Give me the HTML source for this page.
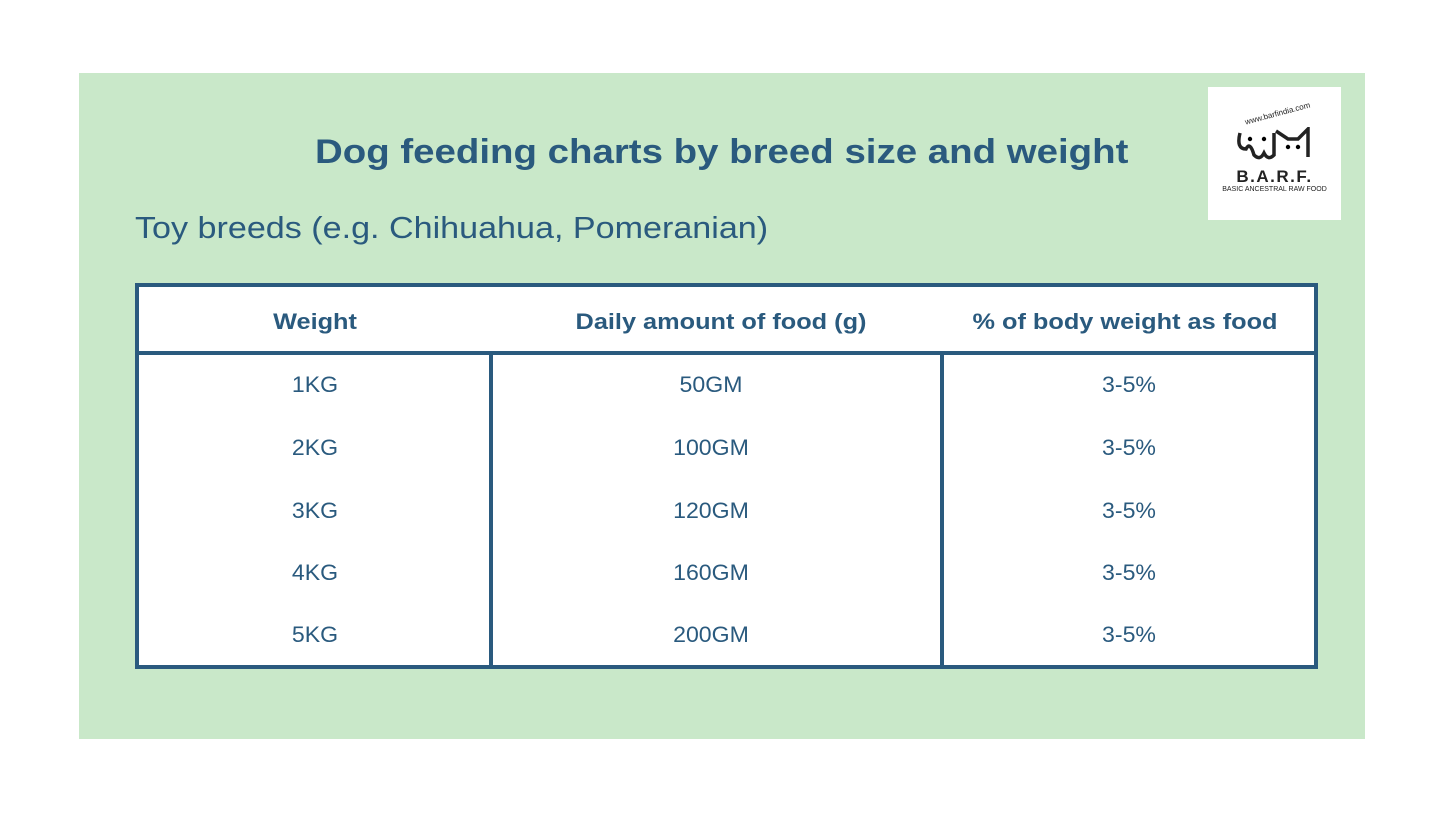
<!DOCTYPE html><html><head><style>
body{margin:0;width:1445px;height:813px;background:#fff;position:relative;font-family:"Liberation Sans",sans-serif;overflow:hidden}
.bg{position:absolute;left:79px;top:73px;width:1286px;height:666px;background:#c9e8c9}
.t{position:absolute;color:#2a5a7e;white-space:nowrap;transform-origin:left top}
.logo{position:absolute;left:1208px;top:87px;width:133px;height:133px;background:#fff}
.tbl{position:absolute;left:135px;top:283px;width:1175px;height:378px;border:4px solid #2a5a7e;background:#fff}
.h{position:absolute;left:0;top:64px;width:100%;height:4px;background:#2a5a7e}
.v{position:absolute;top:66px;width:4px;height:314px;background:#2a5a7e}
.c{position:absolute;color:#2a5a7e;font-size:22px;transform:translateX(-50%) scaleX(1.05);white-space:nowrap}
.hd{font-weight:bold;font-size:22px;transform:translateX(-50%) scaleX(1.15)}
</style></head><body>
<div class="bg"></div>
<div class="t" style="left:315px;top:133px;font-size:34px;font-weight:bold;transform:scaleX(1.13)">Dog feeding charts by breed size and weight</div>
<div class="t" style="left:135px;top:210px;font-size:31px;transform:scaleX(1.1)">Toy breeds (e.g. Chihuahua, Pomeranian)</div>
<div class="logo">
<div style="position:absolute;left:36px;top:22px;font-size:8px;transform:rotate(-15deg);color:#222">www.barfindia.com</div>
<svg style="position:absolute;left:28px;top:40px" width="80" height="40"><path d="M4 6 Q0 22 10 22 Q14 14 18 28 Q24 34 28 26 Q32 34 38 28 L38 6 M40 4 L52 12 L62 12 L72 2 L72 30" stroke="#222" stroke-width="3.5" fill="none"/><circle cx="14" cy="12" r="2.2"/><circle cx="28" cy="12" r="2.2"/><circle cx="52" cy="20" r="2.2"/><circle cx="62" cy="20" r="2.2"/></svg>
<div style="position:absolute;left:0;width:133px;top:80px;text-align:center;font-size:17px;font-weight:bold;color:#222;letter-spacing:1.5px">B.A.R.F.</div>
<div style="position:absolute;left:0;width:133px;top:99px;text-align:center;font-size:7px;color:#222">BASIC ANCESTRAL RAW FOOD</div>
</div>
<div class="tbl">
<div class="h"></div>
<div class="v" style="left:350px"></div>
<div class="v" style="left:801px"></div>
<div class="c hd" style="left:176px;top:22px">Weight</div>
<div class="c hd" style="left:582px;top:22px">Daily amount of food (g)</div>
<div class="c hd" style="left:986px;top:22px">% of body weight as food</div>
<div class="c" style="left:176px;top:85px">1KG</div><div class="c" style="left:572px;top:85px">50GM</div><div class="c" style="left:990px;top:85px">3-5%</div>
<div class="c" style="left:176px;top:148px">2KG</div><div class="c" style="left:572px;top:148px">100GM</div><div class="c" style="left:990px;top:148px">3-5%</div>
<div class="c" style="left:176px;top:211px">3KG</div><div class="c" style="left:572px;top:211px">120GM</div><div class="c" style="left:990px;top:211px">3-5%</div>
<div class="c" style="left:176px;top:273px">4KG</div><div class="c" style="left:572px;top:273px">160GM</div><div class="c" style="left:990px;top:273px">3-5%</div>
<div class="c" style="left:176px;top:335px">5KG</div><div class="c" style="left:572px;top:335px">200GM</div><div class="c" style="left:990px;top:335px">3-5%</div>
</div>
</body></html>
